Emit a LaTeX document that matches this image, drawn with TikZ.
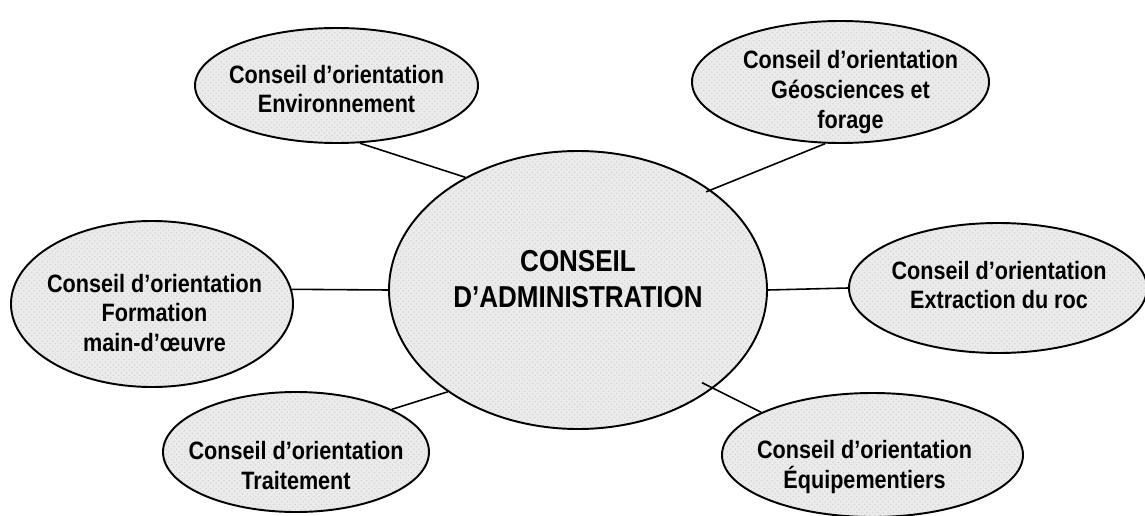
\documentclass[tikz,border=0pt]{standalone}
\usepackage{fontspec}
\setmainfont{Liberation Sans}
\newfontfamily\councilfont{Liberation Sans}[FakeStretch=0.86]
\usetikzlibrary{shapes.geometric,patterns}

\begin{document}
\begin{tikzpicture}[
	council/.style={shape=ellipse, draw=black, line width=1.1pt, preaction={fill=black!8}, pattern=crosshatch dots, pattern color=black!16, inner sep=0pt},
	counciltext/.style={align=center, font=\councilfont\bfseries\fontsize{14.3}{17}\selectfont},
	link/.style={-, line width=0.9pt}
]
	\useasboundingbox (0, 0) rectangle (22.9, 10.3);
	
	% central board
	\node[council, minimum width=7.56cm, minimum height=5.56cm] (ca) at (11.56, 4.5) {};
	\node[align=center, font=\councilfont\bfseries\fontsize{17.2}{20.1}\selectfont] (cat) at (11.56, 4.72) {CONSEIL\\D’ADMINISTRATION};
	
	% orientation councils
	\node[council, minimum width=5.66cm, minimum height=2.3cm]  (env) at (6.73, 8.59)   {};
	\node[council, minimum width=5.94cm, minimum height=2.44cm] (geo) at (16.81, 8.66)  {};
	\node[council, minimum width=5.64cm, minimum height=3.32cm] (form) at (3.04, 4.22)  {};
	\node[council, minimum width=5.96cm, minimum height=2.6cm]  (ext) at (19.96, 4.54)  {};
	\node[council, minimum width=5.32cm, minimum height=2.4cm]  (trt) at (5.92, 1.26)   {};
	\node[council, minimum width=6.02cm, minimum height=2.48cm] (equ) at (17.45, 1.2)   {};
	
	\node[counciltext] (envt) at (6.73, 8.52)   {Conseil d’orientation\\Environnement};
	\node[counciltext] (geot) at (17.01, 8.46)  {Conseil d’orientation\\Géosciences et\\forage};
	\node[counciltext] (formt) at (3.09, 4.04)  {Conseil d’orientation\\Formation\\main-d’œuvre};
	\node[counciltext] (extt) at (19.98, 4.6)   {Conseil d’orientation\\Extraction du roc};
	\node[counciltext] (trtt) at (5.92, 0.99)   {Conseil d’orientation\\Traitement};
	\node[counciltext] (equt) at (17.29, 0.96)  {Conseil d’orientation\\Équipementiers};
	
	\path[link] (env.-68) edge (ca.135);
	\path[link] (geo.-104) edge[shorten >=-1mm] (ca.37);
	\path[link] (form.6) edge (ca.west);
	\path[link] (ca.east) edge (ext.west);
	\path[link] (trt.24) edge (ca.-142);
	\path[link] (ca.-36) edge[shorten <=-2.5mm] (equ.159);

\end{tikzpicture}
\end{document}
